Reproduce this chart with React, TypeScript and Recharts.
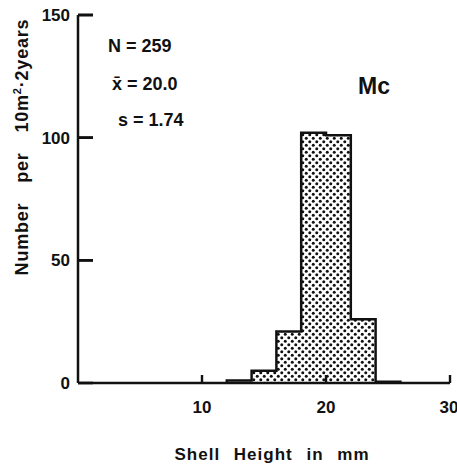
import { ComposedChart, Area, Scatter, XAxis, YAxis } from "recharts";

// histogram bins (lower edge, mm) and counts per 10 m² · 2 years
const binStarts = [12, 14, 16, 18, 20, 22, 24];
const counts = [1, 5, 21, 102, 101, 26, 0.5];
const binWidth = 2;

const xTicks = [10, 20, 30];
const yTicks = [0, 50, 100, 150];

const stats = ["N = 259", "x\u0304 = 20.0", "s = 1.74"];
const siteLabel = "Mc";

// step outline: start at baseline, one point per bin edge, close at baseline
const data = [
  { h: binStarts[0], n: 0 },
  ...binStarts.map((b, i) => ({ h: b, n: counts[i] })),
  { h: binStarts[binStarts.length - 1] + binWidth, n: 0 },
];

// points where the inward tick marks sit
const xTickMarks = xTicks.map((t) => ({ h: t, n: 0 }));
const yTickMarks = yTicks.filter((t) => t > 0).map((t) => ({ h: 0, n: t }));

const FONT = "'Liberation Sans', Arial, sans-serif";
const INK = "#111";

const XTick = (props: any) => {
  const { x, y, payload } = props;
  return (
    <text x={x} y={y} dy={14} textAnchor="middle" fill={INK} fontSize={17} fontWeight="bold" fontFamily={FONT}>
      {payload.value}
    </text>
  );
};

const YTick = (props: any) => {
  const { x, y, payload } = props;
  return (
    <text x={x} y={y} dy={6} textAnchor="end" fill={INK} fontSize={17} fontWeight="bold" fontFamily={FONT}>
      {payload.value}
    </text>
  );
};

const XMark = (props: any) => <rect x={props.cx - 1.1} y={props.cy - 8} width={2.2} height={8} fill={INK} />;
const YMark = (props: any) => <rect x={props.cx} y={props.cy - 1.3} width={15} height={2.6} fill={INK} />;

const textStyle = { position: "absolute" as const, whiteSpace: "nowrap" as const, fontFamily: FONT, fontWeight: "bold" as const, color: INK };

const App = () => (
  <div style={{ position: "absolute", left: 0, top: 0 }}>
    <svg width={0} height={0} style={{ position: "absolute" }}>
      <defs>
        <pattern id="dots" width="7" height="7" patternUnits="userSpaceOnUse">
          <circle cx="1.75" cy="1.75" r="1.5" fill={INK} />
          <circle cx="5.25" cy="5.25" r="1.5" fill={INK} />
        </pattern>
      </defs>
    </svg>
    <ComposedChart width={457} height={468} data={data} margin={{ top: 15, right: 7, bottom: 0, left: 0 }}>
      <Area
        type="stepAfter"
        dataKey="n"
        stroke={INK}
        strokeWidth={2.5}
        fill="url(#dots)"
        fillOpacity={1}
        isAnimationActive={false}
        dot={false}
        activeDot={false}
      />
      <Scatter data={xTickMarks} dataKey="n" shape={<XMark />} isAnimationActive={false} />
      <Scatter data={yTickMarks} dataKey="n" shape={<YMark />} isAnimationActive={false} />
      <XAxis
        dataKey="h"
        type="number"
        domain={[0, 30]}
        ticks={xTicks}
        tickSize={-8}
        tickMargin={24}
        stroke={INK}
        strokeWidth={2.5}
        tickLine={{ stroke: INK, strokeWidth: 2.2 }}
        height={85}
        tick={<XTick />}
      />
      <YAxis
        type="number"
        domain={[0, 150]}
        ticks={yTicks}
        tickSize={-15}
        tickMargin={23}
        width={78}
        stroke={INK}
        strokeWidth={2.5}
        tickLine={{ stroke: INK, strokeWidth: 2.6 }}
        tick={<YTick />}
      />
    </ComposedChart>

    {/* axis titles */}
    <div
      style={{
        ...textStyle,
        left: 22,
        top: 147,
        transform: "translate(-50%, -50%) rotate(-90deg)",
        fontSize: 18,
        wordSpacing: 14,
        letterSpacing: 0.8,
      }}
    >
      Number per 10m<sup style={{ fontSize: 11 }}>2</sup>·2years
    </div>
    <div
      style={{
        ...textStyle,
        left: 272,
        top: 455,
        transform: "translate(-50%, -50%)",
        fontSize: 17,
        wordSpacing: 8,
        letterSpacing: 1,
      }}
    >
      Shell Height in mm
    </div>

    {/* statistics */}
    {stats.map((s, i) => (
      <div
        key={s}
        style={{
          ...textStyle,
          left: [108, 112, 118][i],
          top: [46, 84, 120][i],
          transform: "translateY(-50%)",
          fontSize: 18,
        }}
      >
        {s}
      </div>
    ))}
    <div style={{ ...textStyle, left: 358, top: 86, transform: "translateY(-50%)", fontSize: 23 }}>
      {siteLabel}
    </div>
  </div>
);

export default App;
